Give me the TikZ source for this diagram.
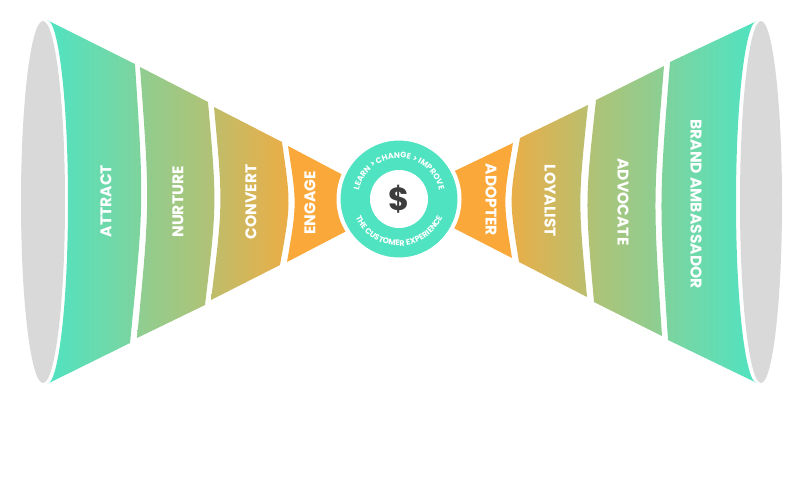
\documentclass[tikz,border=0pt]{standalone}
\usepackage{fontspec}
\setsansfont{Poppins}
\usetikzlibrary{decorations.text}
\definecolor{mint}{HTML}{50E3C2}
\definecolor{amber}{HTML}{FBA83A}
\definecolor{cupgray}{HTML}{D9D9D9}
\definecolor{ink}{HTML}{3D3D3D}
\newcommand\ringfont{\sffamily\bfseries\fontsize{8}{8}\selectfont}
\begin{document}
\begin{tikzpicture}[x=1pt, y=-1pt,
		stage/.style={text=white, inner sep=0pt, font=\sffamily\bfseries\fontsize{15.5}{16}\selectfont},
		hubdisc/.style={circle, fill=mint, draw=white, line width=4pt, minimum size=121pt, inner sep=0pt},
		coredisc/.style={circle, fill=white, minimum size=58pt, inner sep=0pt}]
		\useasboundingbox (0,0) rectangle (800,480);

		\fill[cupgray] (43,202) ellipse[x radius=22pt, y radius=181pt];
		\path[left color=mint, right color=mint!72!amber] (47,20) -- (135,64) .. controls (144,203) .. (130,343) -- (47,384) arc[start angle=-90, end angle=90, x radius=21pt, y radius=182pt] -- cycle;
		\path[left color=mint!64!amber, right color=mint!42!amber] (140,67) -- (208,102) .. controls (217,204) .. (205,305) -- (137,338) .. controls (150,203) .. (140,67) -- cycle;
		\path[left color=mint!36!amber, right color=mint!8!amber] (214,107) -- (282,142) .. controls (291,204) .. (280,265) -- (211,300) .. controls (223,204) .. (214,107) -- cycle;
		\fill[amber] (288,146) -- (362,185) -- (362,223) -- (287,262) .. controls (297,204) .. (288,146) -- cycle;

		\fill[cupgray] (761,202) ellipse[x radius=21pt, y radius=181pt];
		\fill[amber] (438,179) -- (513,143) .. controls (503,201) .. (512,258) -- (438,220) -- cycle;
		\path[left color=mint!10!amber, right color=mint!38!amber] (520,138) -- (588,105) .. controls (578,201) .. (587,297) -- (519,262) .. controls (509,200) .. (520,138) -- cycle;
		\path[left color=mint!42!amber, right color=mint!66!amber] (596,100) -- (664,66) .. controls (653,201) .. (662,336) -- (594,302) .. controls (585,201) .. (596,100) -- cycle;
		\path[left color=mint!72!amber, right color=mint] (670,62) -- (757,21) arc[start angle=90, end angle=270, x radius=21pt, y radius=181pt] -- (668,340) .. controls (659,201) .. (670,62) -- cycle;

		\node[stage, rotate=90] (attract) at (106,201) {ATTRACT};
		\node[stage, rotate=90] (nurture) at (178,202) {NURTURE};
		\node[stage, rotate=90] (convert) at (251,202) {CONVERT};
		\node[stage, rotate=90] (engage) at (310,203) {ENGAGE};
		\node[stage, rotate=-90] (adopter) at (491,200) {ADOPTER};
		\node[stage, rotate=-90] (loyalist) at (550,201) {LOYALIST};
		\node[stage, rotate=-90] (advocate) at (623,202) {ADVOCATE};
		\node[stage, rotate=-90] (ambassador) at (696,204) {BRAND AMBASSADOR};

		\node[hubdisc] (hub) at (399,199) {};
		\node[coredisc] (core) at (hub) {};
		\node[text=ink, font=\sffamily\bfseries\fontsize{32}{32}\selectfont] (dollar) at (core) {\$};

		\path[decorate, decoration={text along path, text color=white, text align=center,
			text={|\ringfont|LEARN > CHANGE > IMPROVE}}]
			(hub.center) ++(180:41pt) arc[start angle=180, end angle=0, radius=41pt];
		\path[decorate, decoration={text along path, text color=white, text align=center,
			text={|\ringfont|THE CUSTOMER EXPERIENCE}}]
			(hub.center) ++(180:47pt) arc[start angle=180, end angle=360, radius=47pt];
	\end{tikzpicture}
\end{document}
